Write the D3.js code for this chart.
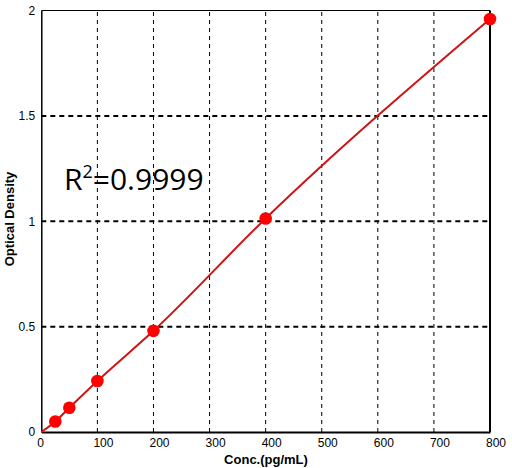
<!DOCTYPE html>
<html>
<head>
<meta charset="utf-8">
<script src="https://cdn.jsdelivr.net/npm/d3@7"></script>
<style>
  body { margin: 0; background: #fff; }
  .tick text { font-family: "Liberation Sans", Arial, sans-serif; font-size: 12px; fill: #000; }
</style>
</head>
<body>
<div id="chart"></div>
<script>
// standard curve values
const conc = [25, 50, 100, 200, 400, 800];
const od = [0.05, 0.115, 0.242, 0.48, 1.013, 1.96];
const xTicks = [0, 100, 200, 300, 400, 500, 600, 700, 800];
const yTicks = [0, 0.5, 1, 1.5, 2];
const r2Label = "0.9999";

const width = 512, height = 468;
const margin = {top: 10.5, right: 22, bottom: 36, left: 41.3};

const svg = d3.select("#chart").append("svg")
    .attr("width", width)
    .attr("height", height);

const x = d3.scaleLinear()
    .domain([0, 800])
    .range([margin.left, width - margin.right]);

const y = d3.scaleLinear()
    .domain([0, 2])
    .range([height - margin.bottom, margin.top]);

// vertical grid
svg.append("g")
    .selectAll("line")
    .data(xTicks.filter(d => d > 0 && d < 800))
    .join("line")
      .attr("x1", d => x(d)).attr("x2", d => x(d))
      .attr("y1", y(0)).attr("y2", y(2))
      .attr("stroke", "#000")
      .attr("stroke-width", 1)
      .attr("stroke-dasharray", "4,4");

// horizontal grid, drawn heavier
svg.append("g")
    .selectAll("line")
    .data(yTicks.filter(d => d > 0 && d < 2))
    .join("line")
      .attr("x1", x(0)).attr("x2", x(800))
      .attr("y1", d => y(d)).attr("y2", d => y(d))
      .attr("stroke", "#000")
      .attr("stroke-width", 2)
      .attr("stroke-dasharray", "5,4");

// frame
svg.append("line") // top
    .attr("x1", x(0)).attr("x2", x(800))
    .attr("y1", y(2)).attr("y2", y(2))
    .attr("stroke", "#000").attr("stroke-width", 1);
svg.append("line") // right
    .attr("x1", x(800)).attr("x2", x(800))
    .attr("y1", y(2)).attr("y2", y(0))
    .attr("stroke", "#000").attr("stroke-width", 2);

const xAxis = svg.append("g")
    .attr("transform", `translate(0,${y(0)})`)
    .call(d3.axisBottom(x).tickValues(xTicks).tickSize(0).tickPadding(6).tickFormat(d3.format("d")));
xAxis.select(".domain").attr("stroke-width", 2);
// labels sit left-aligned, starting a little before the tick
xAxis.selectAll(".tick text")
    .attr("text-anchor", "start")
    .attr("x", -4.5);

const yAxis = svg.append("g")
    .attr("transform", `translate(${x(0)},0)`)
    .call(d3.axisLeft(y).tickValues(yTicks).tickSize(0).tickPadding(6).tickFormat(d => d));
yAxis.select(".domain").attr("stroke-width", 1.5);

// axis titles
svg.append("text")
    .attr("x", 266)
    .attr("y", 464)
    .attr("text-anchor", "middle")
    .attr("font-family", "Liberation Sans, Arial, sans-serif")
    .attr("font-weight", "bold")
    .attr("font-size", 13)
    .text("Conc.(pg/mL)");

svg.append("text")
    .attr("transform", "translate(14,219) rotate(-90)")
    .attr("text-anchor", "middle")
    .attr("font-family", "Liberation Sans, Arial, sans-serif")
    .attr("font-weight", "bold")
    .attr("font-size", 13)
    .text("Optical Density");

// fitted line from origin through the standards
const linePts = [[0, 0]].concat(conc.map((c, i) => [c, od[i]]));
svg.append("path")
    .datum(linePts)
    .attr("fill", "none")
    .attr("stroke", "#cc1414")
    .attr("stroke-width", 2)
    .attr("d", d3.line()
        .x(d => x(d[0]))
        .y(d => y(d[1]))
        .curve(d3.curveMonotoneX));

svg.append("g")
    .selectAll("circle")
    .data(conc)
    .join("circle")
      .attr("cx", d => x(d))
      .attr("cy", (d, i) => y(od[i]))
      .attr("r", 6.3)
      .attr("fill", "#ff0000");

// R squared label
const r2 = svg.append("text")
    .attr("x", 64)
    .attr("y", 190)
    .attr("font-family", "Open Sans, Noto Sans, sans-serif")
    .attr("font-size", 30)
    .attr("fill", "#000");
r2.append("tspan").text("R");
r2.append("tspan").attr("font-size", 18).attr("dy", -12).text("2");
r2.append("tspan").attr("dy", 12).text("=" + r2Label);
</script>
</body>
</html>
